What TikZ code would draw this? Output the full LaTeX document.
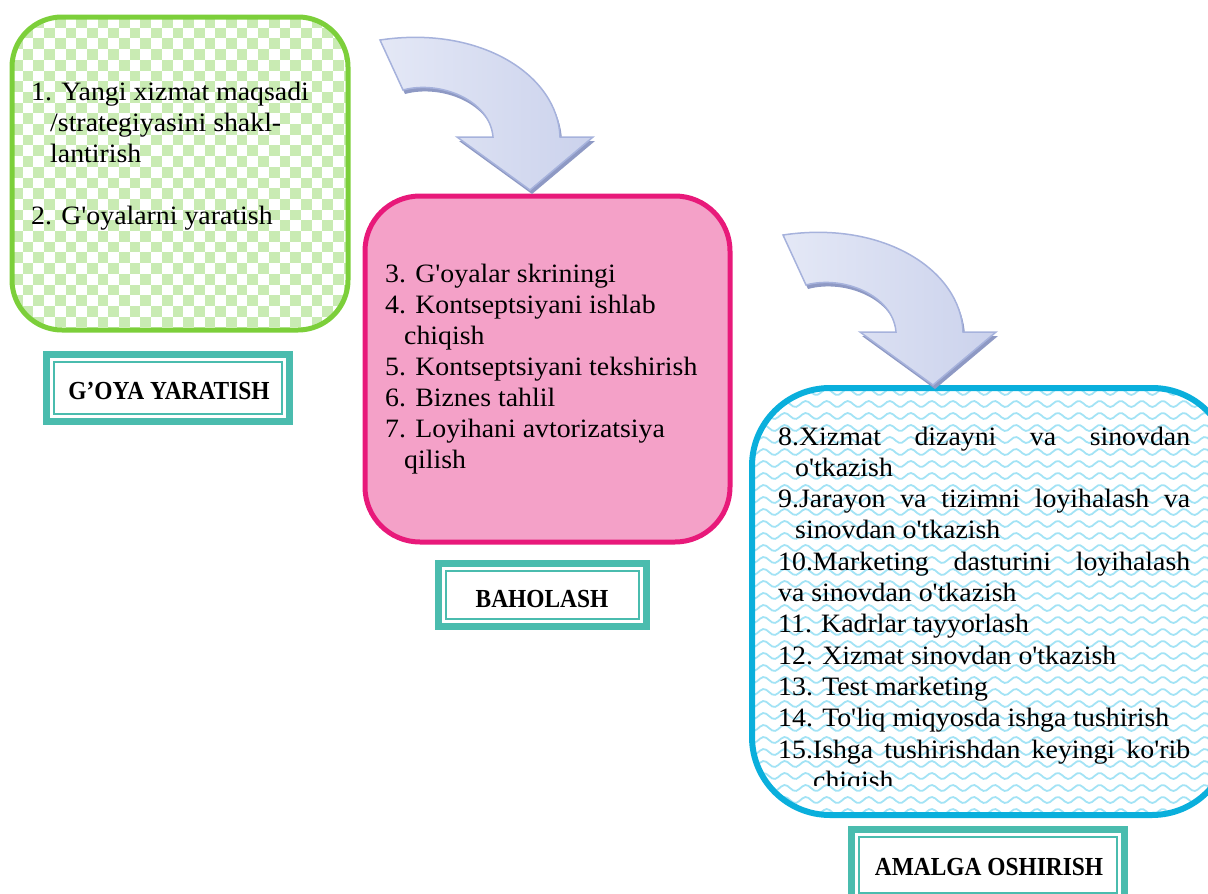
\documentclass[tikz,border=0pt]{standalone}
\usepackage{fontspec}
\setmainfont{Liberation Serif}
\newfontfamily\stepfont{Liberation Serif}[FakeStretch=1.05,Ligatures=TeXOff]
\newfontfamily\capfont{Liberation Serif}[FakeStretch=0.9]
\usetikzlibrary{calc}
\definecolor{ideagreen}{HTML}{7CCF3A}
\definecolor{checkgreen}{HTML}{C9EBB3}
\definecolor{evalpink}{HTML}{E8197A}
\definecolor{evalfill}{HTML}{F4A1C8}
\definecolor{launchcyan}{HTML}{0AAFDC}
\definecolor{wavecyan}{HTML}{A3E3F5}
\definecolor{framegreen}{HTML}{4ABCAE}
\definecolor{arrowlight}{HTML}{E4E8F6}
\definecolor{arrowdark}{HTML}{CBD2EC}
\definecolor{arrowedge}{HTML}{A6B2DC}
\definecolor{arrowshadow}{HTML}{8E99C4}
% double framed caption under each stage
\def\stagebox(#1)(#2){
  \fill[framegreen] (#1) rectangle (#2);
  \fill[white] ($(#1)+(7,7)$) rectangle ($(#2)+(-7,-7)$);
  \draw[framegreen, line width=2.2pt] ($(#1)+(11,11)$) rectangle ($(#2)+(-11,-11)$);
}
% curved block arrow, tail at #1
\def\bentarrow(#1){
  \begin{scope}[shift={(#1)}]
    \fill[arrowshadow] (2,4) -- (25,54) .. controls (62,44) and (112,64) .. (115,101) -- (79,101) -- (152,154) -- (215,101) -- (182,101) .. controls (180,39) and (102,-11) .. cycle;
    \draw[arrowedge, line width=1.5pt, left color=arrowlight, right color=arrowdark] (0,0) -- (23,50) .. controls (60,40) and (110,60) .. (113,97) -- (77,97) -- (150,150) -- (213,97) -- (180,97) .. controls (178,35) and (100,-15) .. cycle;
  \end{scope}
}

\begin{document}
\begin{tikzpicture}[x=1pt, y=-1pt,
    steptext/.style={anchor=base west, inner sep=0pt, font=\stepfont\fontsize{26.5}{31}\selectfont},
    stagetext/.style={inner sep=0pt, font=\capfont\bfseries\fontsize{26}{30}\selectfont}]
			%%%%% START %%%%%
			\useasboundingbox (0,0) rectangle (1208,894);
			
			% idea stage: checkered box
			\begin{scope}
				\clip[rounded corners=50pt] (12,17) rectangle (348,330);
				\foreach \i in {0,...,32}{
					\foreach \j in {0,...,30}{
						\pgfmathparse{int(mod(\i+\j,2))}
						\ifnum\pgfmathresult=0 \fill[checkgreen] ({12+\i*10.7},{17+\j*10.7}) rectangle +(10.7,10.7); \fi
					}
				}
			\end{scope}
			\draw[ideagreen, line width=5pt, rounded corners=50pt] (12,17) rectangle (348,330);
			
			% evaluation stage
			\draw[evalpink, fill=evalfill, line width=5pt, rounded corners=55pt] (365,196) rectangle (730,542);
			
			% launch stage: wavy box
			\begin{scope}
				\clip[rounded corners=78pt] (752,388) rectangle (1230,815);
				\foreach \r in {0,...,36}
					\draw[wavecyan, line width=1.8pt] plot[variable=\t, domain=0:480, samples=160] ({748+\t},{392+\r*12+3*sin(\t*17.14)});
			\end{scope}
			\draw[launchcyan, line width=6pt, rounded corners=78pt] (752,388) rectangle (1230,815);
			
			\bentarrow(380,40)
			\bentarrow(783,235)
			
			% stage captions
			\stagebox(43,351)(293,425)
			\stagebox(435,560)(650,630)
			\stagebox(848,826)(1128,904)
			\node[stagetext] (ideacap) at (169,391) {G’OYA YARATISH};
			\node[stagetext] (evalcap) at (542,599) {BAHOLASH};
			\node[stagetext] (launchcap) at (989,867) {AMALGA OSHIRISH};
			
			% steps
			\node[steptext] (ideasteps) at (31,100) {\parbox[t]{320pt}{1. Yangi xizmat maqsadi\\
				\hspace*{19pt}/strategiyasini shakl-\\
				\hspace*{19pt}lantirish\\[31pt]
				2. G'oyalarni yaratish}};
			\node[steptext] (evalsteps) at (385,282) {\parbox[t]{340pt}{3. G'oyalar skriningi\\
				4. Kontseptsiyani ishlab\\
				\hspace*{19pt}chiqish\\
				5. Kontseptsiyani tekshirish\\
				6. Biznes tahlil\\
				7. Loyihani avtorizatsiya\\
				\hspace*{19pt}qilish}};
			\begin{scope}
				\clip (752,388) rectangle (1208,785);
				\node[steptext] (launchsteps) at (778,445) {\parbox[t]{412pt}{\fontsize{26.5}{31.3}\selectfont
					\makebox[412pt][s]{8.Xizmat dizayni va sinovdan}\\
					\hspace*{17pt}o'tkazish\\
					\makebox[412pt][s]{9.Jarayon va tizimni loyihalash va}\\
					\hspace*{17pt}sinovdan o'tkazish\\
					\makebox[412pt][s]{10.Marketing dasturini loyihalash}\\
					va sinovdan o'tkazish\\
					11. Kadrlar tayyorlash\\
					12. Xizmat sinovdan o'tkazish\\
					13. Test marketing\\
					14. To'liq miqyosda ishga tushirish\\
					\makebox[412pt][s]{15.Ishga tushirishdan keyingi ko'rib}\\
					\hspace*{35pt}chiqish}};
			\end{scope}
			
			%%%%% END %%%%%
\end{tikzpicture}
\end{document}
